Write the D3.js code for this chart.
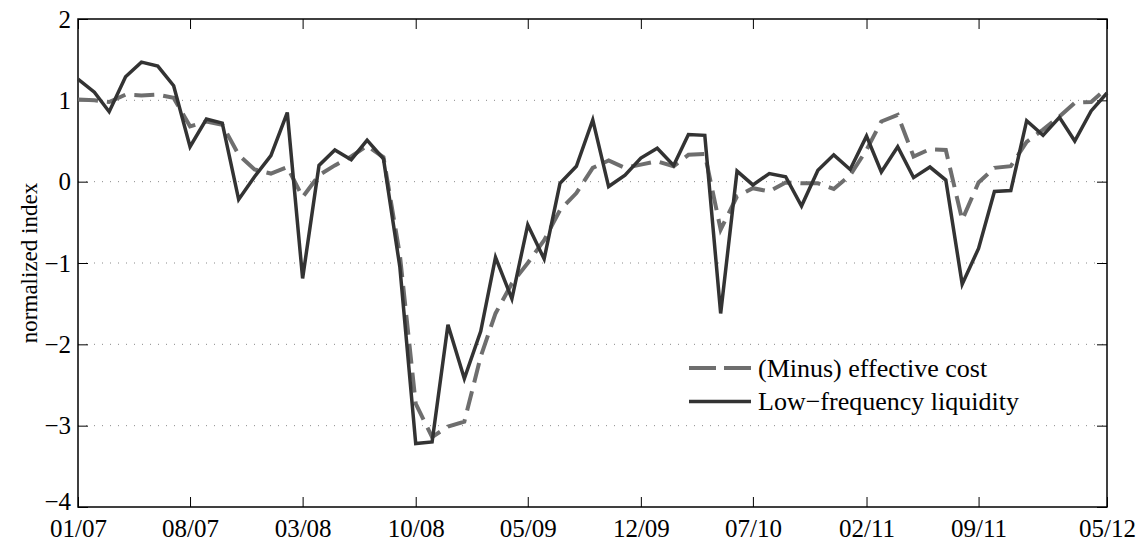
<!DOCTYPE html>
<html lang="en">
<head>
<meta charset="UTF-8">
<title>Liquidity index</title>
<style>
  body { margin: 0; background: #fff; }
  svg text { font-family: "Liberation Serif", Tinos, "Times New Roman", Times, "DejaVu Serif", serif !important; fill: #000; }
</style>
</head>
<body>
<div id="chart"></div>
<script src="https://d3js.org/d3.v7.min.js"></script>
<script>
// month index 0 = 01/07 ... 64 = 05/12
var startMonth = new Date(2007, 0, 1);
var nMonths = 65;

// (Minus) effective cost, dashed
var effCost = [1.01, 1.00, 0.98, 1.07, 1.06, 1.07, 1.03, 0.68, 0.74, 0.70,
  0.33, 0.15, 0.10, 0.18, -0.19, 0.08, 0.20, 0.31, 0.44, 0.30,
  -0.90, -2.73, -3.14, -3.01, -2.95, -2.15, -1.62, -1.25, -1.00, -0.72,
  -0.35, -0.14, 0.17, 0.26, 0.17, 0.21, 0.25, 0.19, 0.33, 0.34,
  -0.59, -0.18, -0.08, -0.12, -0.01, -0.02, -0.02, -0.09, 0.08, 0.39,
  0.74, 0.82, 0.31, 0.40, 0.39, -0.47, -0.01, 0.17, 0.19, 0.49,
  0.64, 0.80, 0.97, 0.98, 1.15];

// Low-frequency liquidity, solid
var lowFreq = [1.26, 1.10, 0.86, 1.29, 1.47, 1.42, 1.18, 0.43, 0.77, 0.72,
  -0.22, 0.06, 0.32, 0.85, -1.19, 0.20, 0.39, 0.27, 0.51, 0.28,
  -1.05, -3.22, -3.20, -1.76, -2.42, -1.84, -0.93, -1.44, -0.53, -0.95,
  -0.02, 0.19, 0.76, -0.06, 0.08, 0.29, 0.41, 0.20, 0.58, 0.57,
  -1.62, 0.13, -0.04, 0.10, 0.06, -0.30, 0.14, 0.33, 0.15, 0.56,
  0.12, 0.43, 0.05, 0.18, 0.02, -1.26, -0.82, -0.12, -0.11, 0.75,
  0.57, 0.79, 0.50, 0.87, 1.09];

var xTickIdx = [0, 7, 14, 21, 28, 35, 42, 49, 56, 64];
var xTickLabels = ["01/07", "08/07", "03/08", "10/08", "05/09", "12/09", "07/10", "02/11", "09/11", "05/12"];
var yTicks = [-4, -3, -2, -1, 0, 1, 2];
var gridVals = [-3, -2, -1, 0, 1];
var seriesNames = ["(Minus) effective cost", "Low\u2212frequency liquidity"];

var W = 1142, H = 542;
var margin = { top: 19, right: 35, bottom: 35, left: 78 };
var w = W - margin.left - margin.right;
var h = H - margin.top - margin.bottom;
var serif = "'Liberation Serif', Tinos, 'Times New Roman', Times, 'DejaVu Serif', serif";

var dates = d3.range(nMonths).map(function (i) { return d3.timeMonth.offset(startMonth, i); });

var svg = d3.select("#chart").append("svg")
  .attr("width", W)
  .attr("height", H)
  .attr("font-family", serif);
var g = svg.append("g").attr("transform", "translate(" + margin.left + "," + margin.top + ")");

var x = d3.scaleTime().domain([dates[0], dates[nMonths - 1]]).range([0, w]);
var y = d3.scaleLinear().domain([-4, 2]).range([h, 0]);

// dotted grid
g.selectAll(".grid").data(gridVals).enter().append("line")
  .attr("x1", 0).attr("x2", w)
  .attr("y1", function (d) { return y(d); })
  .attr("y2", function (d) { return y(d); })
  .attr("stroke", "#8a8a8a")
  .attr("stroke-width", 1)
  .attr("stroke-dasharray", "1,7");

var tickDates = xTickIdx.map(function (i) { return dates[i]; });

// axes, ticks pointing inward
var xAxis = d3.axisBottom(x).tickValues(tickDates)
  .tickFormat(function (d, i) { return xTickLabels[i]; })
  .tickSizeInner(-10).tickSizeOuter(0).tickPadding(12);
var xAxisTop = d3.axisTop(x).tickValues(tickDates).tickFormat("")
  .tickSizeInner(-10).tickSizeOuter(0);
var yAxis = d3.axisLeft(y).tickValues(yTicks).tickFormat(d3.format("d"))
  .tickSizeInner(-10).tickSizeOuter(0).tickPadding(7);
var yAxisRight = d3.axisRight(y).tickValues(yTicks).tickFormat("")
  .tickSizeInner(-10).tickSizeOuter(0);

function styleAxis(sel) {
  sel.attr("font-family", serif).attr("font-size", 25);
  sel.select(".domain").remove();
  sel.selectAll("line").attr("stroke", "#000").attr("stroke-width", 1);
  sel.selectAll("text").style("font-family", serif).style("font-size", "25px").attr("fill", "#000");
}

g.append("g").attr("transform", "translate(0," + h + ")").call(xAxis).call(styleAxis);
g.append("g").call(xAxisTop).call(styleAxis);
var yG = g.append("g").call(yAxis).call(styleAxis);
// bottom label sits a little higher, as in the original
yG.selectAll(".tick text").filter(function (d) { return d === -4; }).attr("dy", "0.1em");
g.append("g").attr("transform", "translate(" + w + ",0)").call(yAxisRight).call(styleAxis);

// frame
g.append("rect")
  .attr("width", w).attr("height", h)
  .attr("fill", "none").attr("stroke", "#000").attr("stroke-width", 1.5);

var line = d3.line()
  .x(function (d, i) { return x(dates[i]); })
  .y(function (d) { return y(d); });

g.append("path").datum(effCost)
  .attr("d", line)
  .attr("fill", "none")
  .attr("stroke", "#6e6e6e")
  .attr("stroke-width", 4)
  .attr("stroke-dasharray", "20,9");

g.append("path").datum(lowFreq)
  .attr("d", line)
  .attr("fill", "none")
  .attr("stroke", "#333333")
  .attr("stroke-width", 3.5)
  .attr("stroke-linejoin", "miter");

// y label
svg.append("text")
  .attr("transform", "translate(29," + (margin.top + h / 2) + ") rotate(-90)")
  .attr("text-anchor", "middle")
  .attr("dominant-baseline", "central")
  .style("font-family", serif)
  .style("font-size", "23px")
  .text("normalized index");

// legend (no box)
var leg = svg.append("g").attr("transform", "translate(689,368)");
var legStyles = [
  { color: "#6e6e6e", dash: "27,8", width: 4 },
  { color: "#333333", dash: null, width: 3.5 }
];
seriesNames.forEach(function (name, i) {
  var row = leg.append("g").attr("transform", "translate(0," + (i * 33.5) + ")");
  row.append("line")
    .attr("x1", 0).attr("x2", 62).attr("y1", 0).attr("y2", 0)
    .attr("stroke", legStyles[i].color)
    .attr("stroke-width", legStyles[i].width)
    .attr("stroke-dasharray", legStyles[i].dash);
  row.append("text")
    .attr("x", 69).attr("y", 0)
    .attr("dominant-baseline", "central")
    .style("font-family", serif)
    .style("font-size", "26px")
    .text(name);
});
</script>
</body>
</html>
